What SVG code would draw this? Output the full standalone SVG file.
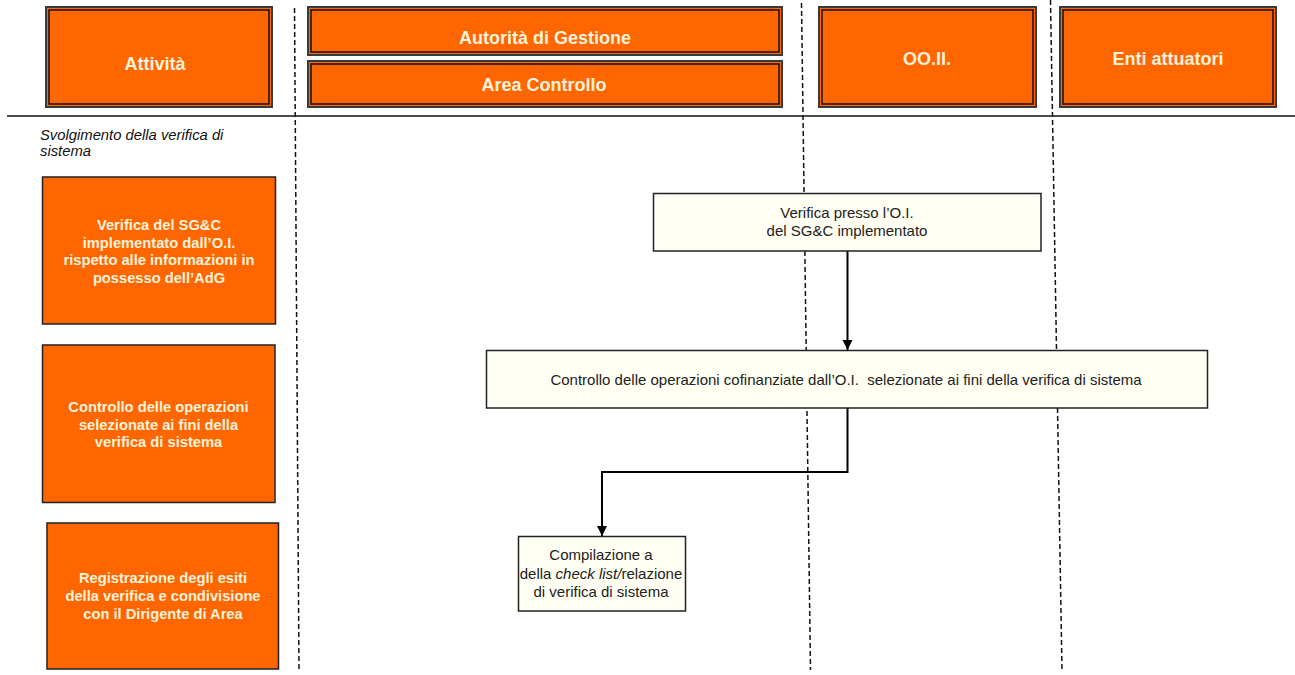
<svg xmlns="http://www.w3.org/2000/svg" width="1295" height="675" viewBox="0 0 1295 675">
  <style>
    .bg { fill: #ffffff; }
    .head-outer { fill: #ff6600; stroke: #3a3a3a; stroke-width: 2; }
    .head-inner { fill: none; stroke: #111111; stroke-width: 1.5; }
    .head-text { font-family: "Liberation Sans", Arial, sans-serif; font-weight: bold; font-size: 18px; fill: #fff3dc; text-anchor: middle; }
    .act-box { fill: #ff6600; stroke: #222222; stroke-width: 1.5; }
    .act-text { font-family: "Liberation Sans", Arial, sans-serif; font-weight: bold; font-size: 14.7px; fill: #fff3dc; text-anchor: middle; }
    .task-box { fill: #fffff3; stroke: #222222; stroke-width: 1.5; }
    .task-text { font-family: "Liberation Sans", Arial, sans-serif; font-size: 15px; fill: #222222; text-anchor: middle; }
    .phase { font-family: "Liberation Sans", Arial, sans-serif; font-style: italic; font-size: 14.8px; fill: #111111; }
    .lane { stroke: #111111; stroke-width: 1.5; stroke-dasharray: 5 3; fill: none; }
    .rule { stroke: #111111; stroke-width: 1.5; fill: none; }
    .flow { stroke: #000000; stroke-width: 2; fill: none; marker-end: url(#arrow); }
  </style>
  <defs>
    <marker id="arrow" viewBox="0 0 10 10" refX="10" refY="5" markerUnits="userSpaceOnUse" markerWidth="10" markerHeight="11" orient="auto">
      <path d="M0,0 L10,5 L0,10 z" fill="#000000"/>
    </marker>
  </defs>

  <rect class="bg" x="0" y="0" width="1295" height="675"/>

  <!-- swimlane separators -->
  <g id="lanes">
    <line class="lane" x1="294.5" y1="8" x2="299" y2="670"/>
    <line class="lane" x1="801.5" y1="3" x2="810.5" y2="670"/>
    <line class="lane" x1="1050.5" y1="0" x2="1062" y2="670"/>
    <line class="rule" x1="7" y1="116" x2="1295" y2="116"/>
  </g>

  <!-- column headers -->
  <g id="head-attivita">
    <rect class="head-outer" x="46" y="7" width="226" height="100"/>
    <rect class="head-inner" x="49" y="10" width="220" height="94"/>
    <text class="head-text" x="155" y="70">Attività</text>
  </g>
  <g id="head-adg">
    <rect class="head-outer" x="308" y="7" width="474" height="48"/>
    <rect class="head-inner" x="311" y="10" width="468" height="42"/>
    <text class="head-text" x="545" y="44">Autorità di Gestione</text>
  </g>
  <g id="head-area">
    <rect class="head-outer" x="308" y="61" width="474" height="46"/>
    <rect class="head-inner" x="311" y="64" width="468" height="40"/>
    <text class="head-text" x="544" y="91">Area Controllo</text>
  </g>
  <g id="head-ooii">
    <rect class="head-outer" x="819" y="7" width="217" height="100"/>
    <rect class="head-inner" x="822" y="10" width="211" height="94"/>
    <text class="head-text" x="927" y="65">OO.II.</text>
  </g>
  <g id="head-enti">
    <rect class="head-outer" x="1060" y="7" width="216" height="100"/>
    <rect class="head-inner" x="1063" y="10" width="210" height="94"/>
    <text class="head-text" x="1168" y="65">Enti attuatori</text>
  </g>

  <!-- phase title -->
  <g id="phase">
    <text class="phase" x="40" y="140">Svolgimento della verifica di</text>
    <text class="phase" x="40" y="156">sistema</text>
  </g>

  <!-- activity column -->
  <g id="act-1">
    <rect class="act-box" x="42.5" y="177" width="233" height="147"/>
    <text class="act-text" x="159" y="230">Verifica del SG&amp;C</text>
    <text class="act-text" x="159" y="247.5">implementato dall’O.I.</text>
    <text class="act-text" x="159" y="265">rispetto alle informazioni in</text>
    <text class="act-text" x="159" y="282.5">possesso dell’AdG</text>
  </g>
  <g id="act-2">
    <rect class="act-box" x="42.5" y="345" width="232.5" height="157.5"/>
    <text class="act-text" x="158.5" y="412">Controllo delle operazioni</text>
    <text class="act-text" x="158.5" y="429.5">selezionate ai fini della</text>
    <text class="act-text" x="158.5" y="447">verifica di sistema</text>
  </g>
  <g id="act-3">
    <rect class="act-box" x="47" y="523" width="231.5" height="146"/>
    <text class="act-text" x="163" y="583">Registrazione degli esiti</text>
    <text class="act-text" x="163" y="601">della verifica e condivisione</text>
    <text class="act-text" x="163" y="618.5">con il Dirigente di Area</text>
  </g>

  <!-- connectors -->
  <g id="connectors">
    <path class="flow" d="M847.5,251 V350"/>
    <path class="flow" d="M847.5,408 V472 H602 V536"/>
  </g>

  <!-- process steps -->
  <g id="task-verifica">
    <rect class="task-box" x="653.5" y="193.5" width="387.5" height="57.5"/>
    <text class="task-text" x="847" y="218">Verifica presso l’O.I.</text>
    <text class="task-text" x="847" y="236">del SG&amp;C implementato</text>
  </g>
  <g id="task-controllo">
    <rect class="task-box" x="486.5" y="350.5" width="721" height="57.5"/>
    <text class="task-text" x="846" y="385">Controllo delle operazioni cofinanziate dall’O.I.&#160; selezionate ai fini della verifica di sistema</text>
  </g>
  <g id="task-compilazione">
    <rect class="task-box" x="518.5" y="536.5" width="167" height="74.5"/>
    <text class="task-text" x="601" y="560">Compilazione a</text>
    <text class="task-text" x="601" y="578.5">della <tspan font-style="italic">check list/</tspan>relazione</text>
    <text class="task-text" x="601" y="597">di verifica di sistema</text>
  </g>
</svg>
